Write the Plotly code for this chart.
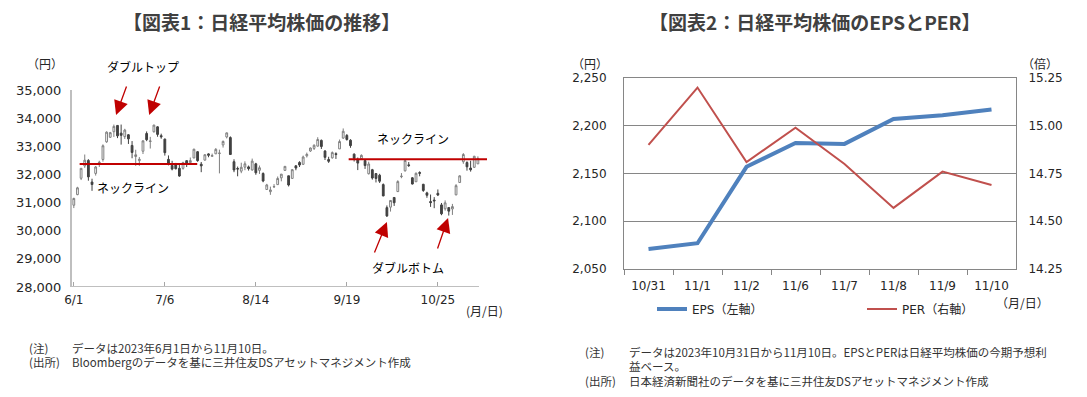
import plotly.graph_objects as go
import pandas as pd

W, H = 1087, 397

# ---------------- Chart 1 data: Nikkei 225 daily OHLC (2023/6/1 - 11/10) ----------------
holidays = ["2023-07-17", "2023-08-11", "2023-09-18", "2023-10-09", "2023-11-03"]
days = [d for d in pd.bdate_range("2023-06-01", "2023-11-10") if d.strftime("%Y-%m-%d") not in holidays]
dates = [f"{d.month}/{d.day}" for d in days]

opens = [
    30907, 31283, 31864, 32302, 32498, 31730, 32036, 32386, 32532, 33158, 33320, 33518,
    33741, 33467, 33342, 33410, 33030, 32637, 32489, 32825, 33454, 33170,
    33517, 33691, 33376, 33254, 32535, 32320, 32338, 32218, 32217, 32489, 32420, 32586,
    32807, 32364, 32508, 32730, 32646, 32732, 32743, 33048,
    33332, 33310, 32452, 32211, 32116, 32258, 32268, 32160, 32376, 32145, 32034, 31465,
    31387, 31555, 31638, 31879, 32144, 31952, 31858, 32307, 32427, 32360,
    32661, 32833, 32925, 33005, 33210, 32830, 32532, 32589, 32738, 32907, 33292, 33385,
    33216, 32721, 32517, 32560, 32492, 32025, 32167, 32031,
    31972, 31638, 30820, 30837, 31181, 31390, 31920, 32130, 32340, 31880, 31740, 32066,
    31649, 31344, 31036, 31089, 31329, 30918, 30780, 30822, 30773,
    31276, 31712, 32450, 32421, 32226, 32253, 32376,
]
highs = [
    31170, 31560, 32217, 32708, 32542, 31847, 32300, 32485, 33067, 33530, 33510, 33772,
    33753, 33772, 33621, 33434, 33186, 32876, 32617, 33211, 33527, 33335,
    33762, 33712, 33448, 33275, 32675, 32484, 32409, 32374, 32452, 32506, 32600, 32912,
    32830, 32442, 32714, 32750, 32740, 32935, 32880, 33206,
    33488, 33352, 32539, 32279, 32417, 32465, 32314, 32563, 32412, 32316, 32073, 31665,
    31566, 31656, 31926, 32016, 32297, 31952, 32192, 32319, 32468, 32668,
    32775, 32955, 33070, 33322, 33240, 32868, 32627, 32816, 32785, 33240, 33634, 33435,
    33251, 32747, 32600, 32712, 32497, 32452, 32197, 32032,
    32022, 31679, 30898, 31075, 31181, 31792, 32048, 32533, 32440, 31906, 32070, 32111,
    31666, 31385, 31286, 31193, 31466, 30986, 31078, 30822, 30952,
    31655, 31970, 32757, 32467, 32486, 32659, 32642,
]
lows = [
    30804, 31262, 31800, 32233, 31778, 31417, 31959, 32265, 32454, 33123, 33296, 33332,
    33290, 33060, 33260, 33083, 32575, 32306, 32306, 32725, 33182, 32920,
    33487, 33339, 33269, 32669, 32322, 32145, 32178, 31916, 32169, 32263, 32405, 32575,
    32450, 32080, 32497, 32610, 32625, 32725, 32037, 32954,
    33279, 32707, 32080, 31934, 32044, 32150, 32136, 32132, 31987, 32017, 31723, 31461,
    31275, 31526, 31634, 31755, 32131, 31572, 31858, 32149, 32264, 32342,
    32602, 32801, 32868, 32989, 32905, 32512, 32410, 32563, 32550, 32907, 33265, 33201,
    32946, 32459, 32154, 32528, 32196, 31998, 31815, 31715,
    31696, 31224, 30487, 30680, 30880, 31376, 31865, 32100, 32266, 31644, 31740, 31934,
    31380, 31170, 30847, 30800, 31232, 30551, 30712, 30538, 30561,
    31257, 31712, 32377, 32134, 32099, 32230, 32376,
]
closes = [
    31148, 31524, 32217, 32506, 31913, 31641, 32265, 32434, 33018, 33502, 33485, 33706,
    33370, 33388, 33575, 33264, 32781, 32698, 32538, 33193, 33234, 33189,
    33753, 33422, 33338, 32773, 32388, 32189, 32203, 31943, 32419, 32391, 32493, 32896,
    32490, 32304, 32700, 32682, 32668, 32891, 32759, 33172,
    33476, 32707, 32159, 32192, 32254, 32377, 32204, 32473, 32059, 32238, 31766, 31626,
    31450, 31566, 31856, 32010, 32287, 31624, 32169, 32227, 32333, 32619,
    32710, 32939, 33036, 33241, 32991, 32606, 32467, 32776, 32706, 33168, 33533, 33242,
    33023, 32571, 32402, 32678, 32315, 32371, 31872, 31857,
    31759, 31237, 30526, 31075, 30994, 31746, 31936, 32494, 32315, 31659, 32040, 32042,
    31430, 31259, 30999, 31062, 31269, 30601, 30991, 30696, 30858,
    31601, 31949, 32708, 32271, 32166, 32646, 32568,
]
x1_ticks = ["6/1", "7/6", "8/14", "9/19", "10/25"]
neck_top = 32370      # double-top neckline
neck_bottom = 32540   # double-bottom neckline

# ---------------- Chart 2 data: EPS & PER ----------------
dates2 = ["10/31", "11/1", "11/2", "11/6", "11/7", "11/8", "11/9", "11/10"]
eps = [2071, 2077, 2157, 2182, 2181, 2207, 2211, 2217]
per = [14.90, 15.20, 14.81, 14.99, 14.80, 14.57, 14.76, 14.69]

FONT = "DejaVu Sans, Noto Sans CJK JP"
JP = "Noto Sans CJK JP, DejaVu Sans"
TXT = "#262626"


def px(x):
    return x / W


def py(y):
    return 1 - y / H


fig = go.Figure()

fig.add_trace(go.Candlestick(
    x=dates, open=opens, high=highs, low=lows, close=closes,
    increasing=dict(line=dict(color="#7f7f7f", width=1), fillcolor="#ffffff"),
    decreasing=dict(line=dict(color="#404040", width=1), fillcolor="#404040"),
    whiskerwidth=0, showlegend=False, hoverinfo="skip",
    xaxis="x", yaxis="y",
))

fig.add_trace(go.Scatter(
    x=dates2, y=eps, mode="lines", name="EPS（左軸）",
    line=dict(color="#4f81bd", width=4), xaxis="x2", yaxis="y2",
))
fig.add_trace(go.Scatter(
    x=dates2, y=per, mode="lines", name="PER（右軸）",
    line=dict(color="#c0504d", width=2), xaxis="x2", yaxis="y3",
))

n = len(dates)
x_end = n - 1 + 0.3

fig.update_layout(
    width=W, height=H, autosize=False,
    margin=dict(l=0, r=0, t=0, b=0, pad=0),
    paper_bgcolor="white", plot_bgcolor="white",
    font=dict(family=FONT, size=12, color=TXT),
    hovermode=False, dragmode=False,
    xaxis=dict(
        domain=[px(72), px(487)], type="category", range=[-0.5, n + 1.5],
        rangeslider=dict(visible=False), showgrid=False, showline=False, zeroline=False,
        tickmode="array", tickvals=x1_ticks, ticktext=x1_ticks,
        ticks="inside", ticklen=5, tickcolor="#a6a6a6", tickwidth=1,
        tickfont=dict(size=12, color=TXT), ticklabelstandoff=4,
        automargin=False, anchor="y", fixedrange=True,
    ),
    yaxis=dict(
        domain=[py(287), py(90)], range=[28000, 35000], dtick=1000, tickformat=",",
        showgrid=False, zeroline=False, showline=True, linecolor="#bfbfbf", linewidth=2,
        ticks="", tickfont=dict(size=13, color=TXT), ticklabelstandoff=6,
        automargin=False, anchor="x",
    ),
    xaxis2=dict(
        domain=[px(624), px(1016)], type="category", anchor="y2",
        range=[-0.5, len(dates2) - 0.5],
        showline=True, linecolor="#868686", linewidth=1, mirror=True,
        ticks="outside", tickson="boundaries", ticklen=5, tickcolor="#868686",
        showgrid=False, tickfont=dict(size=12, color=TXT), ticklabelstandoff=6,
        automargin=False,
    ),
    yaxis2=dict(
        domain=[py(269), py(78)], range=[2050, 2250], dtick=50, tickformat=",",
        showgrid=True, gridcolor="#868686", gridwidth=1, zeroline=False,
        showline=True, linecolor="#868686", linewidth=1,
        ticks="", tickfont=dict(size=12, color=TXT), ticklabelstandoff=14,
        automargin=False, anchor="x2",
    ),
    yaxis3=dict(
        overlaying="y2", side="right", anchor="x2", range=[14.25, 15.25], dtick=0.25,
        tickformat=".2f", showgrid=False, zeroline=False,
        showline=True, linecolor="#868686", linewidth=1,
        ticks="", tickfont=dict(size=12, color=TXT), ticklabelstandoff=9,
        automargin=False,
    ),
    legend=dict(
        orientation="h", x=px(652), y=py(309), xanchor="left", yanchor="middle",
        font=dict(family=FONT, size=12, color=TXT), entrywidth=165, entrywidthmode="pixels",
        bgcolor="rgba(0,0,0,0)", itemclick=False, itemdoubleclick=False,
    ),
)

shapes = [
    # x axis baseline of chart 1 (stops at the last session)
    dict(type="line", xref="x", yref="y", x0=-0.5, x1=x_end, y0=28000, y1=28000,
         line=dict(color="#bfbfbf", width=2), layer="above"),
    # necklines
    dict(type="line", xref="x", yref="y", x0=1.6, x1=33.9, y0=neck_top, y1=neck_top,
         line=dict(color="#c00000", width=2), layer="above"),
    dict(type="line", xref="x", yref="y", x0=75.5, x1=113.5, y0=neck_bottom, y1=neck_bottom,
         line=dict(color="#c00000", width=2), layer="above"),
]
fig.update_layout(shapes=shapes)


def label(t, x, y, size=12, color=TXT, family=JP, anchor="center", bold=False):
    return dict(text=(f"<b>{t}</b>" if bold else t), x=px(x), y=py(y), xref="paper", yref="paper",
                xanchor=anchor, yanchor="middle", showarrow=False,
                font=dict(family=family, size=size, color=color))


ann = []
# titles
ann.append(label("【図表1：日経平均株価の推移】", 261, 22, size=19, color="#404040", bold=True))
ann.append(label("【図表2：日経平均株価のEPSとPER】", 815, 22, size=19, color="#404040", bold=True))
# unit labels
for t, x, y in [("（円）", 45, 64), ("(月/日)", 484, 310), ("（円）", 590, 64), ("（倍）", 1040, 64), ("（月/日）", 1022, 302)]:
    ann.append(label(t, x, y))
# pattern labels
for t, x, y in [("ダブルトップ", 143, 67), ("ネックライン", 133, 188), ("ネックライン", 413, 138), ("ダブルボトム", 408, 267)]:
    ann.append(label(t, x, y, color="#000000"))
# arrows (tip at data point, tail offset in pixels)
for xi, yv, ax, ay in [(11.6, 34110, 11, -30), (20.7, 34110, 11, -30),
                       (86.0, 30310, -13, 32), (102.8, 30450, -11, 32)]:
    ann.append(dict(x=xi, y=yv, xref="x", yref="y", ax=ax, ay=ay, axref="pixel", ayref="pixel",
                    text="", showarrow=True, arrowhead=2, arrowsize=2.2, arrowwidth=1.3,
                    arrowcolor="#c00000", standoff=0))
# notes
notes = [
    ("(注)", 27, 348), ("データは2023年6月1日から11月10日。", 70, 348),
    ("(出所)", 27, 362), ("Bloombergのデータを基に三井住友DSアセットマネジメント作成", 70, 362),
    ("(注)", 583, 352), ("データは2023年10月31日から11月10日。EPSとPERは日経平均株価の今期予想利", 627, 352),
    ("益ベース。", 627, 366),
    ("(出所)", 583, 381), ("日本経済新聞社のデータを基に三井住友DSアセットマネジメント作成", 627, 381),
]
for t, x, y in notes:
    ann.append(label(t, x, y, size=11.5, color="#333333", anchor="left"))
fig.update_layout(annotations=ann)

fig.write_html(
    "out.html",
    config={"displayModeBar": False, "staticPlot": True},
    post_script="document.body.style.margin='0';document.body.style.overflow='hidden';",
)
